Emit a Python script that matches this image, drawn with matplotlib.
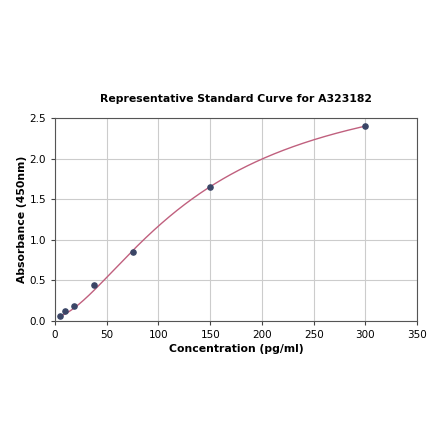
import numpy as np
import matplotlib
matplotlib.use("Agg")
import matplotlib.pyplot as plt

# standard points
conc = np.array([4.69, 9.38, 18.75, 37.5, 75, 150, 300])
absorb = np.array([0.062, 0.118, 0.185, 0.445, 0.845, 1.655, 2.40])

# 4PL curve as drawn in the reference: bottom, slope, ec50, top
curve_params = [0.04, 1.6, 140, 3.1]


def four_pl(x, p):
    a, b, c, d = p
    return d + (a - d) / (1 + (x / c) ** b)


xs = np.linspace(conc.min(), conc.max(), 400)

fig = plt.figure(figsize=(4.4, 4.41), dpi=100)
ax = fig.add_axes([0.125, 0.273, 0.823, 0.459])

ax.plot(xs, four_pl(xs, curve_params), color="#c0607e", lw=1.0, zorder=2)
ax.scatter(conc, absorb, s=14, color="#3a4566", zorder=3)

ax.set_xlim(0, 350)
ax.set_ylim(0, 2.5)
ax.set_xticks(np.arange(0, 351, 50))
ax.set_yticks(np.arange(0, 2.51, 0.5))
ax.grid(True, color="#cccccc", lw=0.8)
ax.set_axisbelow(True)
ax.tick_params(labelsize=7.5, length=3, color="#444444")
for s in ax.spines.values():
    s.set_color("#555555")
    s.set_linewidth(0.8)

ax.set_title("Representative Standard Curve for A323182", fontsize=7.8, fontweight="bold", pad=12)
ax.set_xlabel("Concentration (pg/ml)", fontsize=7.8, fontweight="bold", labelpad=3)
ax.set_ylabel("Absorbance (450nm)", fontsize=7.8, fontweight="bold", labelpad=2)

fig.savefig("out.png", dpi=100)
